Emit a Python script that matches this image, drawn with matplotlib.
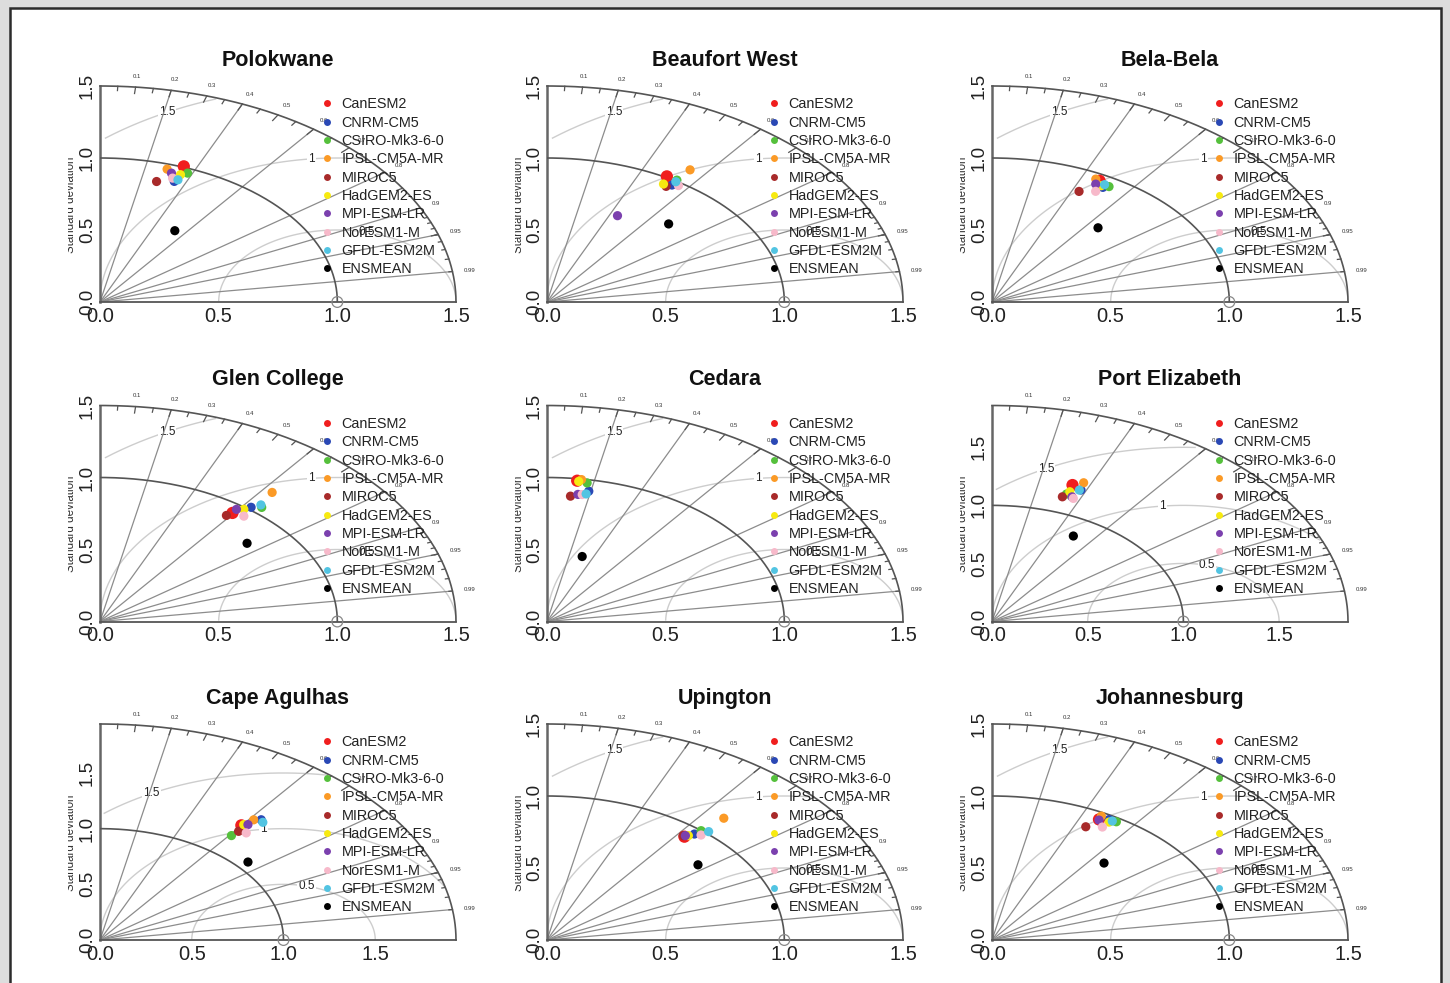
import numpy as np
import matplotlib
matplotlib.use("Agg")
import matplotlib.pyplot as plt
from matplotlib.patches import Rectangle
from matplotlib.lines import Line2D
from matplotlib.transforms import Bbox, TransformedBbox

plt.rcParams['font.family'] = ['Liberation Sans', 'DejaVu Sans']

# ---------------- data ----------------
stations = ["Polokwane", "Beaufort West", "Bela-Bela",
            "Glen College", "Cedara", "Port Elizabeth",
            "Cape Agulhas", "Upington", "Johannesburg"]

models = ["CanESM2", "CNRM-CM5", "CSIRO-Mk3-6-0", "IPSL-CM5A-MR", "MIROC5",
          "HadGEM2-ES", "MPI-ESM-LR", "NorESM1-M", "GFDL-ESM2M", "ENSMEAN"]

model_colors = ["#f01e1e", "#2a48b5", "#55c03c", "#fb9a26", "#a82a2a",
                "#f7ea10", "#7b40ae", "#f7b9ca", "#52c4e2", "#000000"]

# normalised standard deviation (model / observed) per station, order = models
sd_polokwane = [1.006, 0.894, 0.968, 0.965, 0.870, 0.947, 0.944, 0.913, 0.910, 0.587]
sd_beaufort = [1.008, 0.968, 1.008, 1.098, 0.947, 0.955, 0.669, 0.980, 0.996, 0.746]
sd_belabela = [0.956, 0.923, 0.941, 0.959, 0.851, 0.930, 0.928, 0.884, 0.943, 0.682]
sd_glen = [0.938, 1.017, 1.045, 1.153, 0.909, 0.987, 0.968, 0.950, 1.056, 0.824]
sd_cedara = [0.986, 0.922, 0.977, 0.996, 0.876, 0.982, 0.892, 0.894, 0.901, 0.475]
sd_portelizabeth = [1.248, 1.224, 1.164, 1.287, 1.135, 1.189, 1.152, 1.142, 1.220, 0.850]
sd_capeagulhas = [1.286, 1.392, 1.180, 1.366, 1.234, 1.299, 1.313, 1.249, 1.380, 1.068]
sd_upington = [0.922, 0.963, 0.999, 1.127, 0.924, 0.938, 0.930, 0.976, 1.015, 0.823]
sd_johannesburg = [0.951, 0.971, 0.974, 0.976, 0.880, 0.956, 0.947, 0.912, 0.969, 0.713]

# correlation with observations per station, order = models
cor_polokwane = [0.351, 0.350, 0.381, 0.293, 0.274, 0.358, 0.319, 0.335, 0.361, 0.537]
cor_beaufort = [0.501, 0.544, 0.543, 0.549, 0.530, 0.514, 0.444, 0.565, 0.545, 0.687]
cor_belabela = [0.474, 0.506, 0.524, 0.456, 0.431, 0.495, 0.471, 0.494, 0.503, 0.655]
cor_glen = [0.595, 0.626, 0.652, 0.629, 0.586, 0.614, 0.594, 0.638, 0.642, 0.752]
cor_cedara = [0.129, 0.191, 0.173, 0.146, 0.113, 0.136, 0.146, 0.166, 0.183, 0.312]
cor_portelizabeth = [0.337, 0.380, 0.334, 0.372, 0.324, 0.342, 0.363, 0.372, 0.374, 0.500]
cor_capeagulhas = [0.599, 0.631, 0.607, 0.613, 0.612, 0.603, 0.614, 0.638, 0.643, 0.755]
cor_upington = [0.628, 0.645, 0.650, 0.661, 0.621, 0.635, 0.627, 0.665, 0.671, 0.773]
cor_johannesburg = [0.474, 0.508, 0.538, 0.472, 0.449, 0.516, 0.476, 0.510, 0.523, 0.662]

sd_all = [sd_polokwane, sd_beaufort, sd_belabela, sd_glen, sd_cedara,
          sd_portelizabeth, sd_capeagulhas, sd_upington, sd_johannesburg]
cor_all = [cor_polokwane, cor_beaufort, cor_belabela, cor_glen, cor_cedara,
           cor_portelizabeth, cor_capeagulhas, cor_upington, cor_johannesburg]

# outer radius (max standard deviation shown) per panel
max_sd = [1.5, 1.5, 1.5, 1.5, 1.5, 1.86, 1.94, 1.5, 1.5]

ref_sd = 1.0
corr_lines = [0.2, 0.4, 0.6, 0.8, 0.9, 0.95, 0.99]
corr_labels = [0.1, 0.2, 0.3, 0.4, 0.5, 0.6, 0.7, 0.8, 0.9, 0.95, 0.99]
sd_ticks = [0.0, 0.5, 1.0, 1.5]

# ---------------- figure ----------------
W, H = 1450, 983
fig = plt.figure(figsize=(W / 100, H / 100), dpi=100)
fig.patch.set_facecolor("#dddddd")
page = Rectangle((9.5 / W, -0.02), (1440.5 - 9.5) / W, (H - 7.5) / H + 0.02,
                 transform=fig.transFigure, facecolor="white",
                 edgecolor="#2b2b2b", linewidth=1.8, zorder=-10)
fig.add_artist(page)

lefts_px = [100, 547, 992]
bottoms_px = [302, 621.5, 940]
aw, ah = 356, 216

DARK = "#555555"
GRID = "#8c8c8c"
GAMMA = "#cdcdcd"

for k, name in enumerate(stations):
    r, c = divmod(k, 3)
    M = max_sd[k]
    ax = fig.add_axes([lefts_px[c] / W, 1 - bottoms_px[r] / H, aw / W, ah / H])
    ax.set_facecolor("none")
    ax.set_xlim(0, M)
    ax.set_ylim(0, M)
    for s in ["top", "right"]:
        ax.spines[s].set_visible(False)
    for s in ["left", "bottom"]:
        ax.spines[s].set_color(DARK)
        ax.spines[s].set_linewidth(1.3)
    ax.spines["left"].set_linewidth(1.8)
    ax.spines["left"].set_color("#666666")

    ticks = [t for t in sd_ticks if t <= M]
    ax.set_xticks(ticks)
    ax.set_xticklabels(["%.1f" % t for t in ticks], fontsize=14.5, color="#222222")
    ax.set_yticks(ticks)
    ax.set_yticklabels(["%.1f" % t for t in ticks], fontsize=13.5, color="#222222",
                       rotation=90, va="center")
    ax.tick_params(axis="x", length=0, pad=3.5)
    ax.tick_params(axis="y", length=0, pad=3.0)

    # reference sd arc and outer arc
    th = np.linspace(0, np.pi / 2, 200)
    ax.plot(ref_sd * np.cos(th), ref_sd * np.sin(th), color=DARK, lw=1.2, zorder=3)
    ax.plot(M * np.cos(th), M * np.sin(th), color=DARK, lw=1.2, zorder=3, clip_on=False)

    # centred RMS difference contours
    gam = [g for g in [0.5, 1.0, 1.5, 2.0] if g <= M]
    gam = gam[:3]
    tg = np.arange(0, np.pi, 0.03)
    labelpos = np.linspace(45, 70, len(gam))
    for gi, g in enumerate(gam):
        xc = np.cos(tg) * g + ref_sd
        yc = np.sin(tg) * g
        neg = np.where(xc < 0)[0]
        end = neg.min() - 1 if len(neg) else len(tg) - 1
        out = np.where(xc * xc + yc * yc > M * M + 1e-9)[0]
        start = out.max() + 1 if len(out) else 0
        ax.plot(xc[start:end + 1], yc[start:end + 1], color=GAMMA, lw=1.0, zorder=1)
        idx = int(labelpos[gi]) - 1
        if xc[idx] > 0:
            ax.text(xc[idx], yc[idx], "%g" % g, fontsize=8.5, color="#222222",
                    ha="center", va="center", zorder=1.5,
                    bbox=dict(facecolor="white", edgecolor="none", pad=0.8))

    # correlation rays
    for gcl in corr_lines:
        ax.plot([0, M * gcl], [0, M * np.sqrt(1 - gcl ** 2)], color=GRID, lw=0.9, zorder=2)

    # correlation ticks on outer arc
    for vals, frac in [(np.arange(0.1, 0.91, 0.1), 0.97),
                       (np.arange(0.05, 0.96, 0.1), 0.98),
                       (np.arange(0.91, 0.995, 0.01), 0.99)]:
        ang = np.arccos(vals)
        for a in ang:
            ax.plot([np.cos(a) * M, np.cos(a) * frac * M],
                    [np.sin(a) * M, np.sin(a) * frac * M],
                    color=DARK, lw=0.9, zorder=3, clip_on=False)
    for v in corr_labels:
        a = np.arccos(v)
        ax.text(np.cos(a) * 1.05 * M, np.sin(a) * 1.05 * M, "%g" % v, fontsize=4.3,
                color="#333333", ha="center", va="center", clip_on=False)

    # reference point
    ax.scatter([ref_sd], [0], s=60, facecolors="none", edgecolors="#888888",
               linewidths=0.9, zorder=6, clip_on=False)

    # model points
    sds = np.array(sd_all[k])
    cors = np.array(cor_all[k])
    xs = sds * cors
    ys = sds * np.sqrt(1 - cors ** 2)
    for i in range(len(models)):
        size = 78 if i == 0 else 44
        ax.scatter(xs[i], ys[i], s=size, color=model_colors[i], edgecolors="none",
                   zorder=7, clip_on=False)

    handles = [Line2D([], [], linestyle="none", marker="o", markersize=5.0,
                      markerfacecolor=model_colors[i], markeredgecolor="none")
               for i in range(len(models))]
    leg = ax.legend(handles, models, loc="upper left", bbox_to_anchor=(0.621, 0.947),
                    frameon=False, fontsize=10.4, handlelength=0.8, handletextpad=0.62,
                    labelspacing=0.30, borderpad=0, borderaxespad=0)
    leg.set_zorder(8)
    for t in leg.get_texts():
        t.set_color("#222222")

    # title
    ax.annotate(name, xy=(0.5, 1.0), xycoords="axes fraction", xytext=(0, 14.5),
                textcoords="offset points", ha="center", va="baseline",
                fontsize=15.5, fontweight="bold", color="#111111")

    # clipped y label
    yl = ax.text(-25.5 / aw, 0.45, "Standard deviation", transform=ax.transAxes,
                 rotation=90, rotation_mode="anchor", ha="center", va="baseline",
                 fontsize=8.3, color="#333333")
    clip = TransformedBbox(Bbox([[-32.0 / aw, -0.2], [0.0, 1.2]]), ax.transAxes)
    yl.set_clip_box(clip)
    yl.set_clip_on(True)

fig.savefig("out.png", dpi=100, facecolor=fig.get_facecolor())
